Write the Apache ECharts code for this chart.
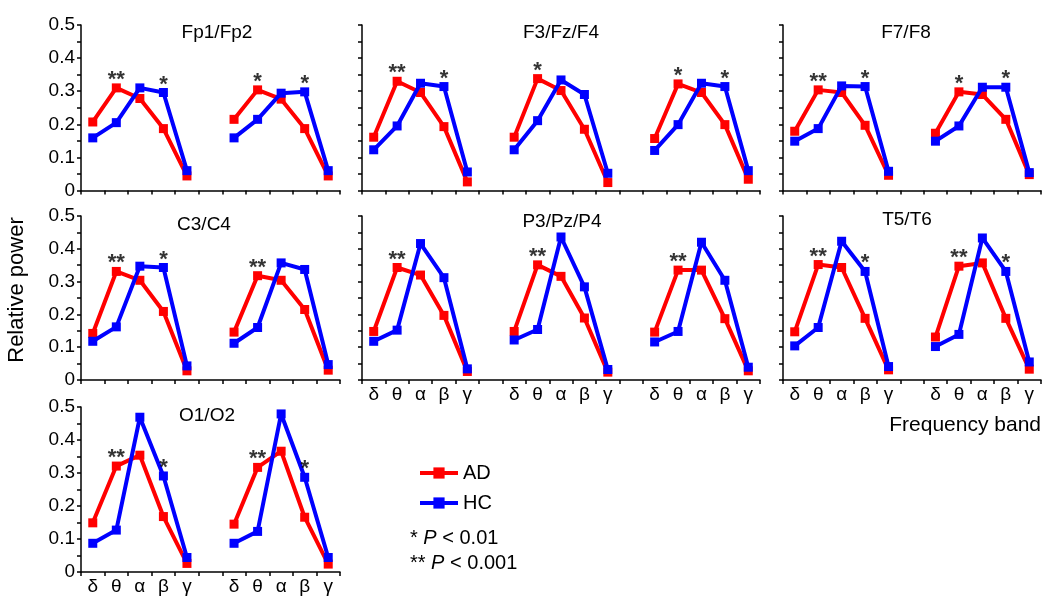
<!DOCTYPE html>
<html>
<head>
<meta charset="utf-8">
<script src="https://cdn.jsdelivr.net/npm/echarts@6/dist/echarts.min.js"></script>
<style>html,body{margin:0;padding:0;background:#fff;}#c{width:1050px;height:602px;}</style>
</head>
<body>
<div id="c"></div>
<script>
const bands = ['δ','θ','α','β','γ'];
const yTickLabels = ['0','0.1','0.2','0.3','0.4','0.5'];

// Fp1/Fp2
const fpAD = [[0.207,0.310,0.278,0.187,0.044],[0.215,0.304,0.276,0.187,0.044]];
const fpHC = [[0.159,0.205,0.310,0.296,0.060],[0.159,0.215,0.294,0.298,0.060]];
const fpSig = [['','**','','*',''],['','*','','*','']];
// F3/Fz/F4
const f3AD = [[0.161,0.330,0.296,0.193,0.026],[0.161,0.338,0.302,0.185,0.024],[0.157,0.322,0.296,0.199,0.034]];
const f3HC = [[0.123,0.195,0.324,0.314,0.056],[0.123,0.211,0.334,0.290,0.052],[0.121,0.199,0.324,0.314,0.060]];
const f3Sig = [['','**','','*',''],['','*','','',''],['','*','','*','']];
// F7/F8
const f7AD = [[0.179,0.304,0.296,0.197,0.046],[0.173,0.298,0.290,0.215,0.048]];
const f7HC = [[0.149,0.187,0.316,0.314,0.058],[0.149,0.195,0.312,0.312,0.054]];
const f7Sig = [['','**','','*',''],['','*','','*','']];
// C3/C4
const c3AD = [[0.142,0.331,0.304,0.209,0.028],[0.146,0.318,0.304,0.215,0.030]];
const c3HC = [[0.118,0.162,0.347,0.343,0.043],[0.112,0.160,0.357,0.337,0.047]];
const c3Sig = [['','**','','*',''],['','**','','','']];
// P3/Pz/P4
const p3AD = [[0.148,0.343,0.320,0.197,0.026],[0.148,0.351,0.316,0.189,0.024],[0.146,0.335,0.335,0.187,0.028]];
const p3HC = [[0.118,0.152,0.416,0.312,0.034],[0.122,0.154,0.436,0.284,0.032],[0.116,0.148,0.420,0.304,0.039]];
const p3Sig = [['','**','','',''],['','**','','',''],['','**','','','']];
// T5/T6
const t5AD = [[0.147,0.352,0.343,0.188,0.031],[0.131,0.347,0.357,0.188,0.033]];
const t5HC = [[0.104,0.160,0.423,0.331,0.041],[0.102,0.139,0.433,0.331,0.055]];
const t5Sig = [['','**','','*',''],['','**','','*','']];
// O1/O2
const o1AD = [[0.149,0.321,0.354,0.168,0.026],[0.145,0.317,0.366,0.166,0.024]];
const o1HC = [[0.087,0.127,0.469,0.291,0.044],[0.087,0.123,0.479,0.287,0.044]];
const o1Sig = [['','**','','*',''],['','**','','*','']];

const titles = ['Fp1/Fp2','F3/Fz/F4','F7/F8','C3/C4','P3/Pz/P4','T5/T6','O1/O2'];
const groupAD = [fpAD, f3AD, f7AD, c3AD, p3AD, t5AD, o1AD];
const groupHC = [fpHC, f3HC, f7HC, c3HC, p3HC, t5HC, o1HC];
const groupSig = [fpSig, f3Sig, f7Sig, c3Sig, p3Sig, t5Sig, o1Sig];

// layout (not data)
const layout = [
  {grid:{left:81, top:25, width:259, height:165.5}, t:[217,33], showX:false, showY:true},
  {grid:{left:362, top:25, width:398, height:165.5}, t:[561,33], showX:false, showY:false},
  {grid:{left:783, top:25, width:258, height:165.5}, t:[906,33], showX:false, showY:false},
  {grid:{left:81, top:216, width:259, height:164}, t:[204,225], showX:false, showY:true},
  {grid:{left:362, top:216, width:398, height:164}, t:[562,222], showX:true, showY:false},
  {grid:{left:783, top:216, width:258, height:164}, t:[907,220], showX:true, showY:false},
  {grid:{left:81, top:407, width:259, height:165}, t:[207,416], showX:true, showY:true}
];

const RED = '#ff0000', BLUE = '#0000ff';
const FONT = 'Liberation Sans, Arial, sans-serif';

function joinGroups(arrs, gapVal) {
  const out = [];
  arrs.forEach((a, i) => { if (i > 0) out.push(gapVal); a.forEach(v => out.push(v)); });
  return out;
}

const grids = [], xAxes = [], yAxes = [], series = [], graphics = [];
titles.forEach((title, i) => {
  const L = layout[i];
  grids.push(Object.assign({outerBoundsMode:'none', containLabel:false}, L.grid));
  const n = groupAD[i].length;
  const cats = joinGroups(Array.from({length:n}, () => bands), '');
  xAxes.push({
    type:'category', gridIndex:i, data:cats, boundaryGap:true,
    axisLine:{show:true, lineStyle:{color:'#000', width:1.5}},
    axisTick:{show:true, interval:0, length:4, lineStyle:{color:'#000', width:1.5}},
    axisLabel:{show:L.showX, interval:0, color:'#000', fontSize:19, margin:5, fontFamily:FONT},
    splitLine:{show:false}
  });
  yAxes.push({
    type:'value', gridIndex:i, min:0, max:0.5, interval:0.1,
    axisLine:{show:true, lineStyle:{color:'#000', width:1.5}},
    axisTick:{show:true, length:4, lineStyle:{color:'#000', width:1.5}},
    minorTick:{show:true, splitNumber:2, length:4, lineStyle:{color:'#000', width:1.5}},
    axisLabel:{show:L.showY, color:'#000', fontSize:19, margin:6, fontFamily:FONT,
      formatter: v => yTickLabels[Math.round(v*10)]},
    splitLine:{show:false}, minorSplitLine:{show:false}
  });
  const ad = joinGroups(groupAD[i], null);
  const hc = joinGroups(groupHC[i], null);
  const sg = joinGroups(groupSig[i], '');
  series.push({name:'AD', type:'line', xAxisIndex:i, yAxisIndex:i, data:ad, symbol:'rect', symbolSize:9,
    lineStyle:{width:4, color:RED}, itemStyle:{color:RED}, connectNulls:false, animation:false, z:2});
  series.push({name:'HC', type:'line', xAxisIndex:i, yAxisIndex:i, data:hc, symbol:'rect', symbolSize:9,
    lineStyle:{width:4, color:BLUE}, itemStyle:{color:BLUE}, connectNulls:false, animation:false, z:3});
  series.push({name:'sig', type:'scatter', xAxisIndex:i, yAxisIndex:i, symbolSize:0, silent:true, animation:false, z:4,
    data: sg.map((s, k) => s ? {value: Math.max(ad[k], hc[k]), sig: s} : null),
    label:{show:true, position:'top', distance:0, offset:[0,3], color:'#000', fontSize:22, fontWeight:'bold', fontFamily:FONT,
      formatter: p => p.data && p.data.sig ? p.data.sig : ''}
  });
  graphics.push({type:'text', x:L.t[0], y:L.t[1], style:{text:title, font:'19px '+FONT, fill:'#000',
    align:'center', verticalAlign:'middle', textAlign:'center', textVerticalAlign:'middle'}});
});

graphics.push({type:'text', x:17, y:290, rotation:Math.PI/2, style:{text:'Relative power', font:'22px '+FONT, fill:'#000',
  align:'center', verticalAlign:'middle', textAlign:'center', textVerticalAlign:'middle'}});
graphics.push({type:'text', x:1041, y:425, style:{text:'Frequency band', font:'21px '+FONT, fill:'#000',
  align:'right', verticalAlign:'middle', textAlign:'right', textVerticalAlign:'middle'}});
graphics.push({type:'text', x:410, y:538, style:{text:'{a|* }{i|P}{a| < 0.01}', fill:'#000',
  verticalAlign:'middle', textVerticalAlign:'middle',
  rich:{a:{fontSize:20, fontFamily:FONT, fill:'#000'}, i:{fontSize:20, fontFamily:FONT, fontStyle:'italic', fill:'#000'}}}});
graphics.push({type:'text', x:410, y:563, style:{text:'{a|** }{i|P}{a| < 0.001}', fill:'#000',
  verticalAlign:'middle', textVerticalAlign:'middle',
  rich:{a:{fontSize:20, fontFamily:FONT, fill:'#000'}, i:{fontSize:20, fontFamily:FONT, fontStyle:'italic', fill:'#000'}}}});

const chart = echarts.init(document.getElementById('c'), null, {renderer:'canvas'});
chart.setOption({
  animation:false,
  backgroundColor:'#fff',
  grid:grids, xAxis:xAxes, yAxis:yAxes, series:series,
  legend:{data:['AD','HC'], orient:'vertical', left:413, top:458, itemWidth:38, itemHeight:14, itemGap:10,
    lineStyle:{width:4}, textStyle:{fontSize:20, color:'#000', fontFamily:FONT}, selectedMode:false},
  graphic:graphics
});
</script>
</body>
</html>
